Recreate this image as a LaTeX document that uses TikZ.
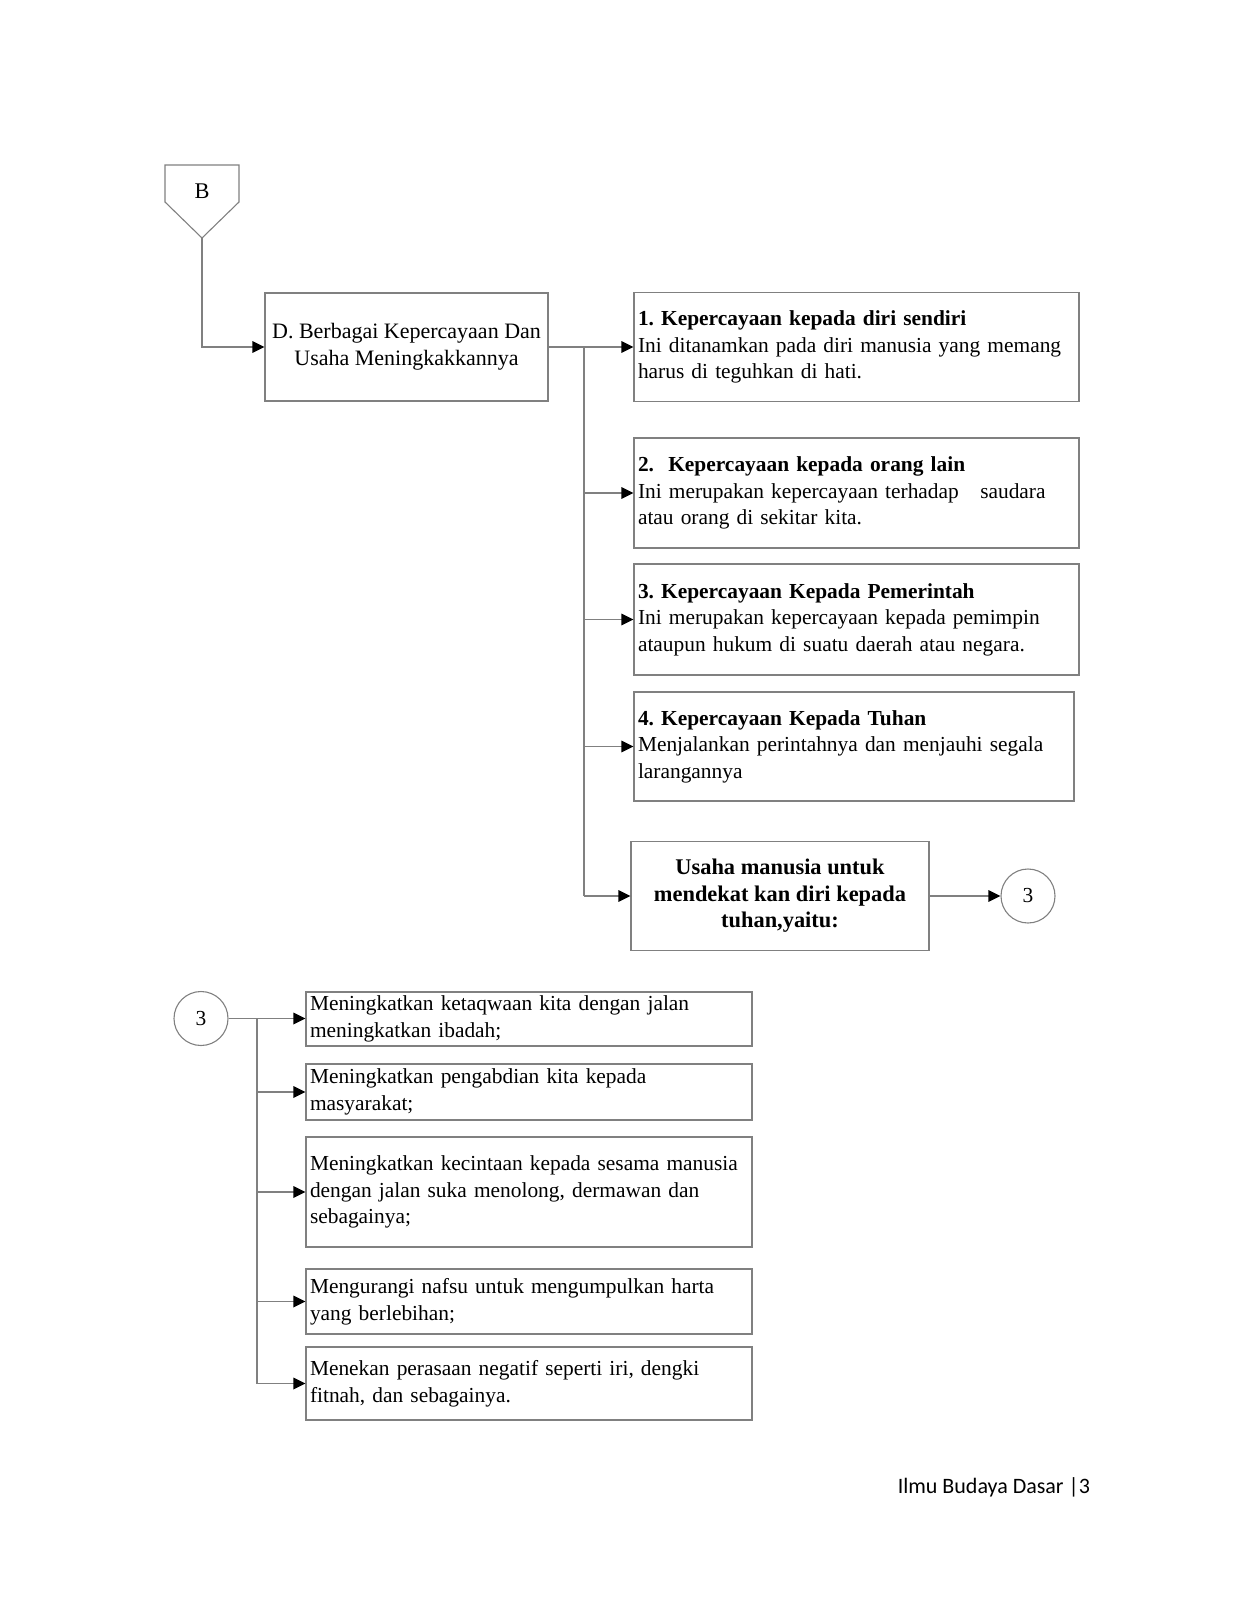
\documentclass[tikz,border=0pt]{standalone}
\usepackage{fontspec}
\setmainfont{Liberation Serif}
\newfontfamily\footfont{Carlito}
\usetikzlibrary{arrows.meta,shapes.geometric}
\frenchspacing
\hyphenpenalty=10000
\exhyphenpenalty=10000
\begin{document}
\begin{tikzpicture}[x=0.5pt,y=-0.5pt,
  every node/.style={font=\fontsize{10.7}{13.3}\selectfont},
  box/.style={draw=black!50, line width=0.55pt, rectangle, inner xsep=2pt, inner ysep=0pt, align=left},
  cbox/.style={draw=black!50, line width=0.55pt, rectangle, inner sep=0pt, align=center},
  conn/.style={draw=black!50, line width=0.7pt},
  arr/.style={conn, -{Triangle[length=6pt,width=5.8pt,color=black]}},
  circ/.style={draw=black!50, line width=0.55pt, circle, minimum size=27pt, inner sep=0pt}
]
\useasboundingbox (0,0) rectangle (1236,1600);
% B off-page connector
\draw[draw=black!50, line width=0.55pt] (165,165) -- (239,165) -- (239,202) -- (202,238) -- (165,202) -- cycle;
\node[font=\fontsize{11.2}{13.3}\selectfont] (B) at (202,191) {B};
\coordinate (Btip) at (202,238);
% main box
\node[cbox, minimum width=141.5pt, minimum height=54pt, font=\fontsize{11}{13.3}\selectfont] (D) at (406.5,347)
  {D. Berbagai Kepercayaan Dan\\Usaha Meningkakkannya};
% right boxes
\node[box, minimum height=54.5pt, text width=218.5pt] (k1) at (856.5,347)
  {\textbf{1. Kepercayaan kepada diri sendiri}\\Ini ditanamkan pada diri manusia yang memang\\harus di teguhkan di hati.};
\node[box, minimum height=55pt, text width=218.5pt] (k2) at (856.5,493)
  {\textbf{2.\ \ Kepercayaan kepada orang lain}\\Ini merupakan kepercayaan terhadap\ \ \ saudara\\atau orang di sekitar kita.};
\node[box, minimum height=55.5pt, text width=218.5pt] (k3) at (856.5,619.5)
  {\textbf{3. Kepercayaan Kepada Pemerintah}\\Ini merupakan kepercayaan kepada pemimpin\\ataupun hukum di suatu daerah atau negara.};
\node[box, minimum height=54.5pt, text width=216pt] (k4) at (854,746.5)
  {\textbf{4. Kepercayaan Kepada Tuhan}\\Menjalankan perintahnya dan menjauhi segala\\larangannya};
\node[cbox, minimum width=149pt, minimum height=54.5pt, font=\fontsize{11.2}{13.3}\selectfont\bfseries] (k5) at (780,896)
  {Usaha manusia untuk\\mendekat kan diri kepada\\tuhan,yaitu:};
\node[circ] (c3a) at (1028,896) {3};
% connectors top
\coordinate (tr) at (584,347);
\draw[arr] (Btip) |- (D.west);
\draw[arr] (D.east) -- (D.east -| k1.west);
\draw[conn] (tr) -- (tr |- k5.west);
\draw[arr] (tr |- k2.west) -- (k2.west);
\draw[arr] (tr |- k3.west) -- (k3.west);
\draw[arr] (tr |- k4.west) -- (k4.west);
\draw[arr] (tr |- k5.west) -- (k5.west);
\draw[arr] (k5.east) -- (k5.east -| c3a.west);
% lower part
\node[circ] (c3b) at (201,1018.5) {3};
\node[box, minimum height=27pt, text width=219pt] (u1) at (529,1019)
  {Meningkatkan ketaqwaan kita dengan jalan\\meningkatkan ibadah;};
\node[box, minimum height=28pt, text width=219pt] (u2) at (529,1092)
  {Meningkatkan pengabdian kita kepada\\masyarakat;};
\node[box, minimum height=55pt, text width=219pt] (u3) at (529,1192)
  {Meningkatkan kecintaan kepada sesama manusia\\dengan jalan suka menolong, dermawan dan\\sebagainya;};
\node[box, minimum height=32.5pt, text width=219pt] (u4) at (529,1301.5)
  {Mengurangi nafsu untuk mengumpulkan harta\\yang berlebihan;};
\node[box, minimum height=36.5pt, text width=219pt] (u5) at (529,1383.5)
  {Menekan perasaan negatif seperti iri, dengki\\fitnah, dan sebagainya.};
\coordinate (tr2) at (257,1018.5);
\draw[arr] (c3b.east) -- (c3b.east -| u1.west);
\draw[conn] (tr2) -- (tr2 |- u5.west);
\draw[arr] (tr2 |- u2.west) -- (u2.west);
\draw[arr] (tr2 |- u3.west) -- (u3.west);
\draw[arr] (tr2 |- u4.west) -- (u4.west);
\draw[arr] (tr2 |- u5.west) -- (u5.west);
% footer
\node[font=\footfont\fontsize{11}{13}\selectfont, anchor=east] (foot) at (1097,1487) {Ilmu Budaya Dasar |3};
\end{tikzpicture}
\end{document}
